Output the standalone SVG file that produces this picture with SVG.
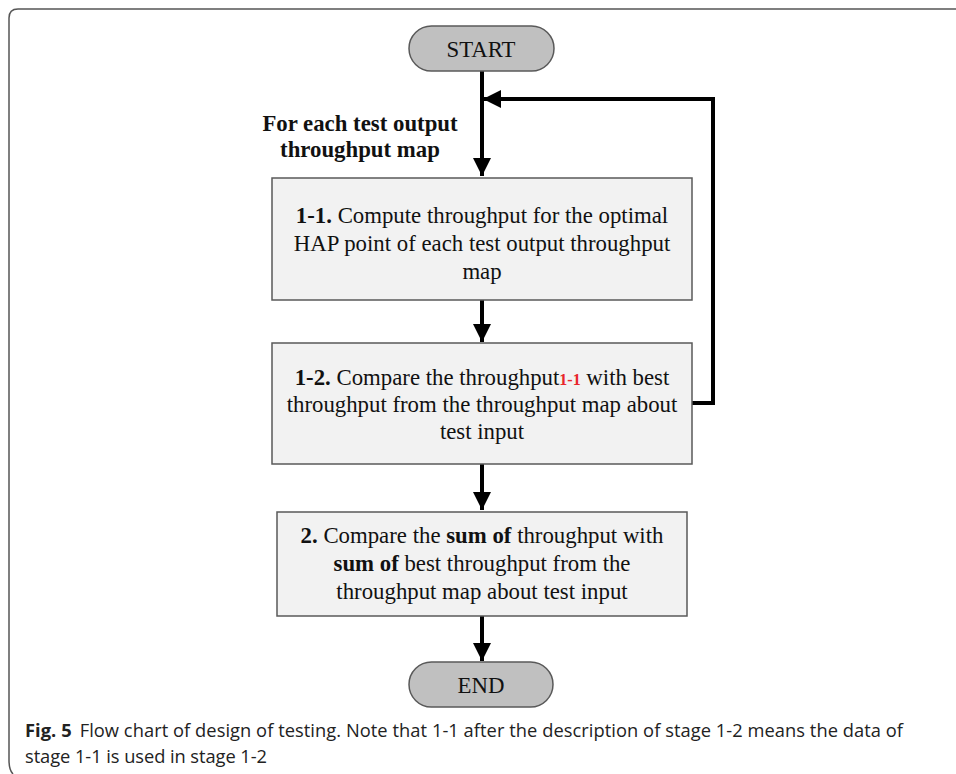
<svg xmlns="http://www.w3.org/2000/svg" width="956" height="774" viewBox="0 0 956 774">
<style>
.box{fill:#f2f2f2;stroke:#595959;stroke-width:1.5}
.pill{fill:#c0c0c0;stroke:#595959;stroke-width:1.5}
.t{font-family:"Liberation Serif","Times New Roman",serif;font-size:22.8px;fill:#111;text-anchor:middle}
.b{font-weight:bold}
.ln{stroke:#000;stroke-width:4;fill:none}
.cap{font-family:"Open Sans","Noto Sans","Liberation Sans",sans-serif;font-size:18.3px;fill:#222}
</style>
<defs>
<marker id="ah" viewBox="0 0 10 10" refX="10" refY="5" markerWidth="18" markerHeight="18" markerUnits="userSpaceOnUse" orient="auto">
<path d="M0,0 L10,5 L0,10 Z" fill="#000"/>
</marker>
</defs>
<path d="M956,9 H18 Q9,9 9,18 V760 Q9,770 13,774" fill="none" stroke="#555" stroke-width="1.5"/>
<g id="connectors">
<line class="ln" x1="482" y1="71" x2="482" y2="176" marker-end="url(#ah)"/>
<line class="ln" x1="482" y1="300" x2="482" y2="342" marker-end="url(#ah)"/>
<line class="ln" x1="482" y1="464" x2="482" y2="510" marker-end="url(#ah)"/>
<line class="ln" x1="482" y1="616" x2="482" y2="661" marker-end="url(#ah)"/>
<polyline class="ln" points="692,403 713,403 713,99 483,99" marker-end="url(#ah)"/>
</g>
<g id="label">
<text class="t b" x="360" y="131" font-size="22.6">For each test output</text>
<text class="t b" x="360" y="157" font-size="22.6">throughput map</text>
</g>
<g id="start">
<rect class="pill" x="409" y="26" width="145" height="45" rx="22.5"/>
<text class="t" x="481" y="57">START</text>
</g>
<g id="step1-1">
<rect class="box" x="272" y="178" width="420" height="122"/>
<text class="t" x="482" y="223"><tspan class="b">1-1.</tspan> Compute throughput for the optimal</text>
<text class="t" x="482" y="251">HAP point of each test output throughput</text>
<text class="t" x="482" y="279">map</text>
</g>
<g id="step1-2">
<rect class="box" x="272" y="343" width="420" height="121"/>
<text class="t" x="482" y="385"><tspan class="b">1-2.</tspan> Compare the throughput<tspan class="b" fill="#e8262b" font-size="16">1-1</tspan> with best</text>
<text class="t" x="482" y="412">throughput from the throughput map about</text>
<text class="t" x="482" y="439">test input</text>
</g>
<g id="step2">
<rect class="box" x="277" y="512" width="410" height="104"/>
<text class="t" x="482" y="543"><tspan class="b">2.</tspan> Compare the <tspan class="b">sum of</tspan> throughput with</text>
<text class="t" x="482" y="571"><tspan class="b">sum of</tspan> best throughput from the</text>
<text class="t" x="482" y="599">throughput map about test input</text>
</g>
<g id="end">
<rect class="pill" x="409" y="662" width="144" height="45" rx="22.5"/>
<text class="t" x="481" y="693">END</text>
</g>
<g id="caption">
<text class="cap" x="25" y="737" textLength="878"><tspan font-weight="bold">Fig. 5</tspan><tspan dx="8">Flow chart of design of testing. Note that 1-1 after the description of stage 1-2 means the data of</tspan></text>
<text class="cap" x="25" y="763" textLength="242">stage 1-1 is used in stage 1-2</text>
</g>
</svg>
